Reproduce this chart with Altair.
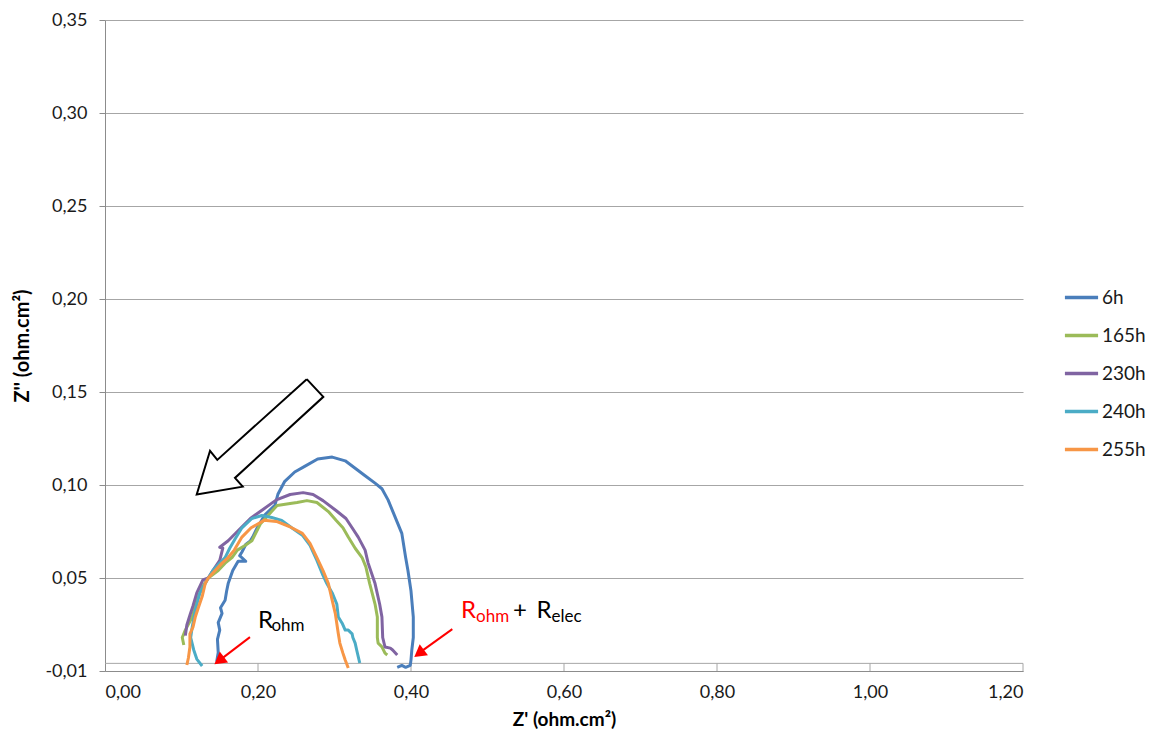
import altair as alt
import pandas as pd

# ---------------- data ----------------
series_names = ["6h", "165h", "230h", "240h", "255h"]
series_colors = ["#4A7EBB", "#9BBB59", "#8064A2", "#4BACC6", "#F79646"]

x_6h = [0.146, 0.148, 0.147, 0.150, 0.148, 0.153, 0.151, 0.157, 0.159, 0.161, 0.167, 0.174, 0.184, 0.176,
        0.179, 0.184, 0.190, 0.193, 0.199, 0.209, 0.222, 0.226, 0.235, 0.248, 0.261, 0.278,
        0.297, 0.314, 0.327, 0.340, 0.353, 0.362, 0.370, 0.379, 0.388, 0.393, 0.396, 0.400,
        0.403, 0.403, 0.401, 0.400, 0.399, 0.393, 0.388, 0.382]
y_6h = [0.005, 0.010, 0.017, 0.022, 0.026, 0.031, 0.034, 0.038, 0.043, 0.047, 0.054, 0.059, 0.059, 0.062,
        0.064, 0.068, 0.070, 0.072, 0.077, 0.084, 0.089, 0.095, 0.102, 0.107, 0.110, 0.114,
        0.115, 0.113, 0.109, 0.105, 0.101, 0.098, 0.092, 0.083, 0.074, 0.061, 0.054, 0.043,
        0.029, 0.018, 0.011, 0.006, 0.003, 0.002, 0.003, 0.002]

x_165h = [0.103, 0.101, 0.105, 0.114, 0.120, 0.127, 0.135, 0.148, 0.157, 0.166, 0.173, 0.183,
          0.192, 0.203, 0.216, 0.225, 0.242, 0.251, 0.264, 0.277, 0.292, 0.302, 0.311, 0.318,
          0.327, 0.336, 0.341, 0.346, 0.353, 0.356, 0.356, 0.357, 0.362, 0.366, 0.369]
y_165h = [0.014, 0.018, 0.022, 0.029, 0.038, 0.045, 0.050, 0.054, 0.058, 0.061, 0.065, 0.0675,
          0.070, 0.079, 0.085, 0.089, 0.090, 0.0906, 0.0916, 0.0906, 0.0857, 0.081, 0.077, 0.072,
          0.066, 0.061, 0.056, 0.047, 0.036, 0.029, 0.018, 0.015, 0.013, 0.0096, 0.0086]

x_230h = [0.105, 0.107, 0.111, 0.115, 0.120, 0.128, 0.135, 0.141, 0.150, 0.154, 0.150, 0.161,
          0.173, 0.190, 0.207, 0.224, 0.242, 0.259, 0.272, 0.285, 0.302, 0.315, 0.323, 0.331,
          0.340, 0.344, 0.353, 0.359, 0.362, 0.363, 0.366, 0.373, 0.376, 0.382]
y_230h = [0.019, 0.0247, 0.030, 0.035, 0.042, 0.049, 0.050, 0.054, 0.0595, 0.066, 0.0665, 0.070,
          0.075, 0.082, 0.087, 0.092, 0.0949, 0.0959, 0.0949, 0.0916, 0.0863, 0.082, 0.077, 0.072,
          0.065, 0.058, 0.047, 0.036, 0.029, 0.018, 0.0129, 0.0123, 0.0113, 0.0086]

x_240h = [0.127, 0.120, 0.116, 0.112, 0.114, 0.118, 0.124, 0.131, 0.135, 0.141, 0.150, 0.157,
          0.163, 0.170, 0.179, 0.192, 0.205, 0.218, 0.231, 0.244, 0.258, 0.268, 0.277, 0.285,
          0.290, 0.297, 0.303, 0.305, 0.310, 0.314, 0.318, 0.323, 0.324, 0.327, 0.329, 0.333]
y_240h = [0.0027, 0.0064, 0.0113, 0.018, 0.0236, 0.0327, 0.042, 0.047, 0.050, 0.054, 0.058, 0.061,
          0.066, 0.071, 0.077, 0.082, 0.0836, 0.0825, 0.081, 0.077, 0.073, 0.0675, 0.0595, 0.0514,
          0.047, 0.042, 0.036, 0.029, 0.0257, 0.022, 0.022, 0.020, 0.018, 0.015, 0.0113, 0.0043]

x_255h = [0.107, 0.109, 0.111, 0.111, 0.115, 0.118, 0.122, 0.127, 0.131, 0.135, 0.144, 0.153,
          0.161, 0.169, 0.179, 0.191, 0.208, 0.224, 0.241, 0.258, 0.268, 0.277, 0.285, 0.292,
          0.297, 0.301, 0.305, 0.307, 0.311, 0.314, 0.318]
y_255h = [0.0032, 0.007, 0.0129, 0.020, 0.0236, 0.029, 0.034, 0.040, 0.047, 0.050, 0.054, 0.058,
          0.061, 0.065, 0.072, 0.077, 0.081, 0.0804, 0.0777, 0.074, 0.0686, 0.061, 0.054, 0.047,
          0.038, 0.031, 0.020, 0.015, 0.0096, 0.0059, 0.0016]

# y tick values (display positions) and x tick values
y_ticks = [0.0, 0.05, 0.10, 0.15, 0.20, 0.25, 0.30, 0.35]
x_ticks = [0.0, 0.2, 0.4, 0.6, 0.8, 1.0, 1.2]

# extra horizontal line just above the bottom axis and its small tick segments
base_line_y = 0.0041

# hollow arrow outline (closed polygon)
hollow_x = [0.2637, 0.2854, 0.1699, 0.1800, 0.1199, 0.1373, 0.1468, 0.2637]
hollow_y = [0.1569, 0.1474, 0.1038, 0.0991, 0.0949, 0.1184, 0.1135, 0.1569]

# red arrows: shaft start/end and head position
red_x1 = [0.1895, 0.4540]
red_y1 = [0.0182, 0.0225]
red_x2 = [0.1530, 0.4144]
red_y2 = [0.0068, 0.0108]
red_head_x = [0.1513, 0.4126]
red_head_y = [0.0062, 0.0101]

# annotation text pieces
ann_text = ["R", "ohm", "R", "ohm", "+", "R", "elec"]
ann_x = [0.2000, 0.2176, 0.4654, 0.4850, 0.5333, 0.5641, 0.5837]
ann_y = [0.0233, 0.0214, 0.0287, 0.0263, 0.0287, 0.0287, 0.0263]
ann_size = [24, 17, 24, 17, 24, 24, 17]
ann_color = ["#000000", "#000000", "#FF0000", "#FF0000", "#000000", "#000000", "#000000"]

# ---------------- tables ----------------
rows = []
for name, xs, ys in [("6h", x_6h, y_6h), ("165h", x_165h, y_165h), ("230h", x_230h, y_230h),
                     ("240h", x_240h, y_240h), ("255h", x_255h, y_255h)]:
    for i, (a, b) in enumerate(zip(xs, ys)):
        rows.append({"series": name, "i": i, "x": a, "y": b})
df = pd.DataFrame(rows)

hollow_df = pd.DataFrame({"i": list(range(len(hollow_x))), "x": hollow_x, "y": hollow_y})
red_df = pd.DataFrame({"x": red_x1, "y": red_y1, "x2": red_x2, "y2": red_y2})
head_df = pd.DataFrame({"x": red_head_x, "y": red_head_y})
ann_df = pd.DataFrame({"t": ann_text, "x": ann_x, "y": ann_y, "s": ann_size, "c": ann_color})
base_df = pd.DataFrame({"x": [0.0], "x2": [1.2], "y": [base_line_y]})
tick_df = pd.DataFrame({"x": x_ticks[1:], "y": [0.0] * (len(x_ticks) - 1),
                        "y2": [base_line_y] * (len(x_ticks) - 1)})

FONT = "Lato"
xscale = alt.Scale(domain=[0, 1.2], nice=False, zero=False)
yscale = alt.Scale(domain=[0, 0.35], nice=False, zero=False)

x_axis = alt.Axis(
    values=x_ticks, grid=False, ticks=False, domainColor="#8c8c8c", domainWidth=1,
    labelExpr="replace(format(datum.value, '.2f'), '.', ',')",
    labelFont=FONT, labelFontSize=18, labelColor="#1a1a1a", labelPadding=12,
    title="Z' (ohm.cm²)", titleFont=FONT, titleFontSize=19, titleFontWeight="bold",
    titleColor="#000000", titlePadding=9,
)
y_axis = alt.Axis(
    values=y_ticks, grid=True, gridColor="#a6a6a6", gridWidth=1,
    ticks=True, tickSize=6, tickColor="#8c8c8c", domainColor="#8c8c8c", domainWidth=1,
    labelExpr="datum.value == 0 ? '-0,01' : replace(format(datum.value, '.2f'), '.', ',')",
    labelFont=FONT, labelFontSize=18, labelColor="#1a1a1a", labelPadding=12,
    title="Z'' (ohm.cm²)", titleFont=FONT, titleFontSize=20, titleFontWeight="bold",
    titleColor="#000000", titlePadding=12,
)

lines = alt.Chart(df).mark_line(strokeWidth=3, strokeJoin="round").encode(
    x=alt.X("x:Q", scale=xscale, axis=x_axis),
    y=alt.Y("y:Q", scale=yscale, axis=y_axis),
    color=alt.Color("series:N",
                    scale=alt.Scale(domain=series_names, range=series_colors),
                    sort=series_names,
                    legend=alt.Legend(
                        title=None, orient="none", legendX=958, legendY=259,
                        symbolType="stroke", symbolSize=1100, symbolStrokeWidth=3.5,
                        labelFont=FONT, labelFontSize=19, labelColor="#1a1a1a",
                        labelOffset=2, rowPadding=9)),
    order="i:Q",
)

base_rule = alt.Chart(base_df).mark_rule(color="#a6a6a6", strokeWidth=1).encode(
    x="x:Q", x2="x2:Q", y="y:Q")
tick_rules = alt.Chart(tick_df).mark_rule(color="#a6a6a6", strokeWidth=1).encode(
    x="x:Q", y="y:Q", y2="y2:Q")

hollow = alt.Chart(hollow_df).mark_line(
    stroke="black", strokeWidth=2, fill="white", strokeJoin="miter").encode(
    x="x:Q", y="y:Q", order="i:Q")

red_shafts = alt.Chart(red_df).mark_rule(color="#FF0000", strokeWidth=2).encode(
    x="x:Q", y="y:Q", x2="x2:Q", y2="y2:Q")
red_heads = alt.Chart(head_df).mark_point(
    shape="triangle", filled=True, color="#FF0000", opacity=1, size=190, angle=233).encode(
    x="x:Q", y="y:Q")

texts = alt.Chart(ann_df).mark_text(align="left", baseline="alphabetic", font=FONT).encode(
    x="x:Q", y="y:Q", text="t:N",
    size=alt.Size("s:Q", scale=None, legend=None),
    color=alt.Color("c:N", scale=None, legend=None),
)

chart = alt.layer(base_rule, tick_rules, lines, hollow, red_shafts, red_heads, texts).properties(
    width=918, height=651,
    autosize=alt.AutoSizeParams(type="none"),
    padding={"left": 97, "top": 12, "right": 128, "bottom": 60},
    background="white",
).configure_view(stroke=None)

chart.save("out.html", embed_options={"renderer": "svg", "actions": False})
